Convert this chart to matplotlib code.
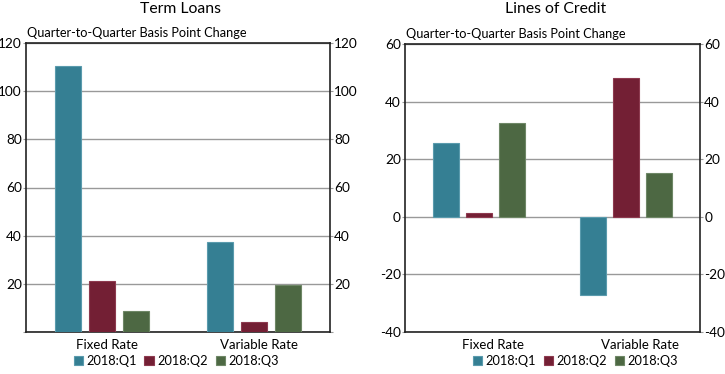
import matplotlib
matplotlib.use("Agg")
import matplotlib.pyplot as plt
import matplotlib.transforms as mtransforms
import numpy as np

categories = ["Fixed Rate", "Variable Rate"]
quarters = ["2018:Q1", "2018:Q2", "2018:Q3"]
colors = ["#357f93", "#731f34", "#4d6843"]
edges = ["#5a9bad", "#8d3a4f", "#6e8766"]

# basis point changes, one list per quarter
term_q1 = [110.3, 37.2]
term_q2 = [21.2, 4.3]
term_q3 = [8.7, 19.5]

loc_q1 = [25.7, -27.2]
loc_q2 = [1.2, 48.2]
loc_q3 = [32.4, 15.3]

plt.rcParams['font.family'] = ['Lato', 'DejaVu Sans']

fig = plt.figure(figsize=(7.25, 3.74), dpi=100)


def panel(rect, title, series, ylim, ticks, labels, shift, leg_x):
  ax = fig.add_axes(rect)
  x = np.arange(len(categories))
  for i, vals in enumerate(series):
    ax.bar(x + (i - 1) * 0.224, vals, width=0.175, color=colors[i],
           edgecolor=edges[i], linewidth=0.8, label=quarters[i], zorder=3)
  ax.set_xlim(-0.5, 1.5)
  ax.set_ylim(*ylim)
  ax.set_yticks(ticks)
  ax.set_yticklabels(labels)
  ax.grid(axis='y', color='#999999', linewidth=1, zorder=0)
  ax.set_xticks(x)
  ax.set_xticklabels(categories)
  ax.tick_params(axis='x', length=0, labelsize=9.5, pad=5)
  ax.tick_params(axis='y', length=2, color='#999999', labelsize=9.8, pad=1,
                 right=True, labelright=True)
  # category labels sit a bit right of the bar groups in the original
  off = mtransforms.ScaledTranslation(shift / 100, 0, fig.dpi_scale_trans)
  for lab in ax.get_xticklabels():
    lab.set_transform(lab.get_transform() + off)
  for s in ax.spines.values():
    s.set_linewidth(1.2)
    s.set_color('#222222')
  ax.text(0.003, 1.015, "Quarter-to-Quarter Basis Point Change", transform=ax.transAxes,
          fontsize=9.2, ha='left', va='bottom')
  fig.text(rect[0] + rect[2] / 2 + 0.004, 1 - 9 / 374, title, ha='center', va='center',
           fontsize=11.3)
  ax.legend(loc='center', bbox_to_anchor=(leg_x, -0.1), ncol=3, frameon=False,
            fontsize=9.2, handlelength=0.75, handleheight=0.75, handletextpad=0.25,
            columnspacing=0.6, borderpad=0)
  return ax


# Term Loans panel
panel([26 / 725, 1 - 332 / 374, 304 / 725, 289 / 374], "Term Loans",
      [term_q1, term_q2, term_q3], (0, 120), [0, 20, 40, 60, 80, 100, 120],
      ["", "20", "40", "60", "80", "100", "120"], 5, 0.494)

# Lines of Credit panel
panel([405 / 725, 1 - 332 / 374, 295 / 725, 288 / 374], "Lines of Credit",
      [loc_q1, loc_q2, loc_q3], (-40, 60), [-40, -20, 0, 20, 40, 60],
      ["-40", "-20", "0", "20", "40", "60"], 14, 0.577)

fig.savefig("out.png", dpi=100)
